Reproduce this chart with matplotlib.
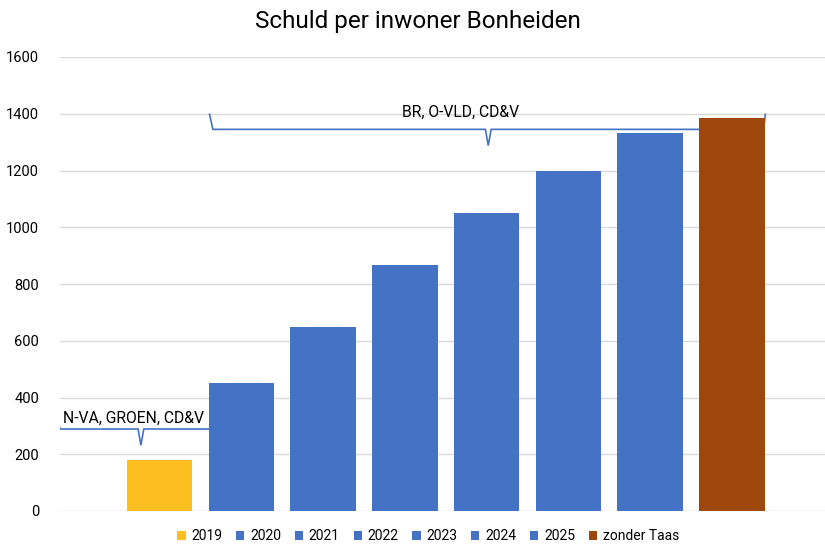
import matplotlib.pyplot as plt

plt.rcParams['font.family'] = ['Roboto', 'DejaVu Sans']

# data
series = ['2019', '2020', '2021', '2022', '2023', '2024', '2025', 'zonder Taas']
values = [180, 451, 648, 866, 1049, 1197, 1331, 1384]
colors = ['#FDBE1F', '#4472C4', '#4472C4', '#4472C4', '#4472C4', '#4472C4', '#4472C4', '#9E480E']

# brackets (coalities): label, span in bar positions, height, label position
bracket_labels = ['N-VA, GROEN, CD&V', 'BR, O-VLD, CD&V']
bracket_spans = [(-1.22, 0.76), (0.65, 7.39)]
bracket_levels = [289, 1345]
bracket_label_pos = [(-0.32, 327), (3.68, 1405)]

fig = plt.figure(figsize=(8.25, 5.48), dpi=100)
ax = fig.add_axes([60 / 825, 37 / 548, 1 - 60 / 825, (511 - 57) / 548])

x = list(range(len(series)))
bars = ax.bar(x, values, width=0.8, color=colors, zorder=3)

# accolades
for (x0, x1), y, lab, (tx, ty) in zip(bracket_spans, bracket_levels, bracket_labels, bracket_label_pos):
    mid = (x0 + x1) / 2
    up = 53   # hoogte van de uiteinden
    dip = 57  # diepte van de punt
    w = 0.035
    xs = [x0 - 0.04, x0, mid - w, mid, mid + w, x1, x1 + 0.02]
    ys = [y + up, y, y, y - dip, y, y, y + up]
    ax.plot(xs, ys, color='#4472C4', lw=1.2, zorder=2, solid_joinstyle='miter')
    ax.text(tx, ty, lab, ha='center', va='center', fontsize=11.3, zorder=4)

ax.set_xlim(-1.22, 8.14)
ax.set_ylim(0, 1600)
ax.set_yticks(range(0, 1601, 200))
ax.set_xticks([])
ax.tick_params(axis='y', length=0, labelsize=10.5, pad=15)
ax.yaxis.grid(True, color='#D9D9D9', lw=1, zorder=0)
for s in ax.spines.values():
    s.set_visible(False)

fig.text(0.506, 0.96, 'Schuld per inwoner Bonheiden', ha='center', va='center', fontsize=17.5)

fig.legend(bars, series, loc='lower center', bbox_to_anchor=(0.519, -0.014), ncol=8, frameon=False,
           fontsize=10, handlelength=0.6, handleheight=0.6, handletextpad=0.4, columnspacing=1.0)

fig.savefig('out.png', dpi=100)
